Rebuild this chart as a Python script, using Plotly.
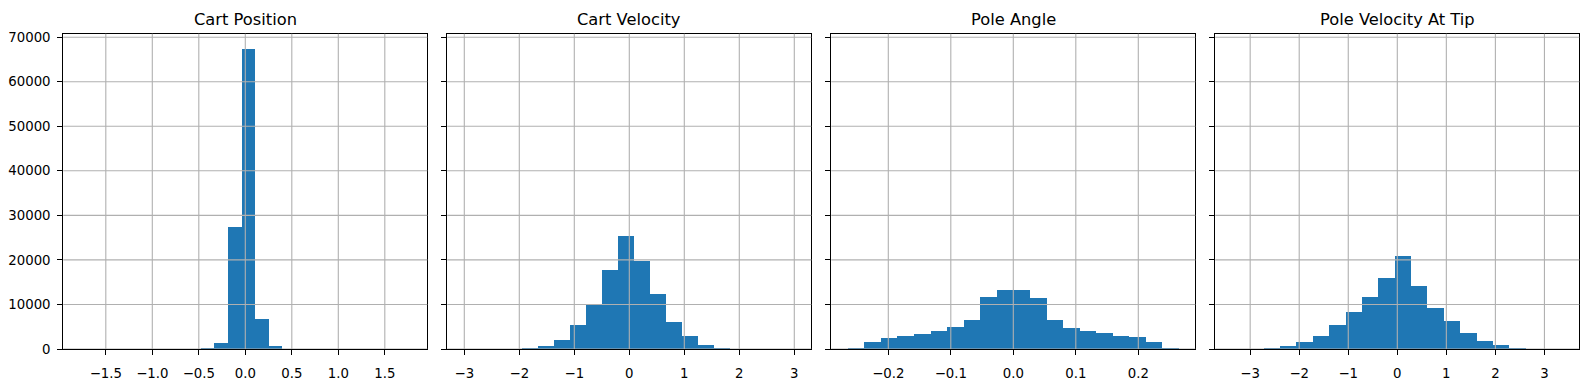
import plotly.graph_objects as go

# ---------------- data ----------------
titles = ["Cart Position", "Cart Velocity", "Pole Angle", "Pole Velocity At Tip"]

cart_pos_edges = [-0.476, -0.330, -0.184, -0.037, 0.108, 0.254, 0.400]
cart_pos_counts = [250, 1500, 27400, 67400, 6800, 700]

cart_vel_edges = [-1.951, -1.660, -1.369, -1.078, -0.787, -0.497, -0.206,
                  0.085, 0.376, 0.667, 0.958, 1.249, 1.540, 1.831]
cart_vel_counts = [200, 650, 2170, 5430, 9900, 17700, 25500, 19900, 12400,
                   6200, 3000, 870, 220]

pole_ang_edges = [-0.2645, -0.2380, -0.2115, -0.1850, -0.1584, -0.1319,
                  -0.1054, -0.0789, -0.0524, -0.0259, 0.0006, 0.0271, 0.0536,
                  0.0801, 0.1066, 0.1331, 0.1596, 0.1861, 0.2126, 0.2391, 0.2656]
pole_ang_counts = [220, 1740, 2610, 3040, 3480, 4130, 5000, 6520, 11740, 13260,
                   13260, 11520, 6520, 4780, 4130, 3700, 3040, 2830, 1740, 220]

pole_vel_edges = [-2.718, -2.384, -2.050, -1.717, -1.383, -1.049, -0.715,
                  -0.381, -0.048, 0.286, 0.620, 0.954, 1.288, 1.621, 1.955,
                  2.289, 2.623]
pole_vel_counts = [220, 650, 1590, 3040, 5430, 8260, 11740, 16090, 20870,
                   14130, 9350, 6300, 3700, 1960, 870, 220]

x_ranges = [[-1.957, 1.957], [-3.309, 3.309], [-0.2912, 0.2912], [-3.711, 3.711]]
y_range = [0, 70770]

x_tickvals = [
    [-1.5, -1.0, -0.5, 0.0, 0.5, 1.0, 1.5],
    [-3, -2, -1, 0, 1, 2, 3],
    [-0.2, -0.1, 0.0, 0.1, 0.2],
    [-3, -2, -1, 0, 1, 2, 3],
]
x_ticktext = [
    ["\u22121.5", "\u22121.0", "\u22120.5", "0.0", "0.5", "1.0", "1.5"],
    ["\u22123", "\u22122", "\u22121", "0", "1", "2", "3"],
    ["\u22120.2", "\u22120.1", "0.0", "0.1", "0.2"],
    ["\u22123", "\u22122", "\u22121", "0", "1", "2", "3"],
]
y_tickvals = [0, 10000, 20000, 30000, 40000, 50000, 60000, 70000]
y_ticktext = ["0", "10000", "20000", "30000", "40000", "50000", "60000", "70000"]

series = [
    (cart_pos_edges, cart_pos_counts),
    (cart_vel_edges, cart_vel_counts),
    (pole_ang_edges, pole_ang_counts),
    (pole_vel_edges, pole_vel_counts),
]

# ---------------- layout geometry ----------------
W, H = 1588, 389
panel_px = [(63.3, 427.3), (447.3, 811.3), (831.3, 1195.3), (1215.3, 1579.3)]
y_top_px, y_bot_px = 30.7, 356.0
y_dom = [(H - y_bot_px) / H, (H - y_top_px) / H]

BLUE = "#1f77b4"
GRID = "#b0b0b0"
FONT = "DejaVu Sans"
TICK_SIZE = 13.3
TITLE_SIZE = 16.3

fig = go.Figure()
layout = dict(
    width=W, height=H,
    margin=dict(l=0, r=0, t=0, b=0),
    paper_bgcolor="white", plot_bgcolor="white",
    showlegend=False, bargap=0,
    font=dict(family=FONT, size=TICK_SIZE, color="black"),
)
shapes = []
annotations = []

for i, ((edges, counts), title) in enumerate(zip(series, titles)):
    n = "" if i == 0 else str(i + 1)
    xa, ya = "x" + n, "y" + n
    centers = [(edges[k] + edges[k + 1]) / 2 for k in range(len(counts))]
    widths = [edges[k + 1] - edges[k] for k in range(len(counts))]
    fig.add_trace(go.Bar(
        x=centers, y=counts, width=widths,
        marker=dict(color=BLUE, line=dict(width=0)),
        xaxis=xa, yaxis=ya, hoverinfo="x+y",
    ))
    x0, x1 = panel_px[i]
    layout["xaxis" + n] = dict(
        domain=[x0 / W, x1 / W], anchor=ya, range=x_ranges[i],
        tickmode="array", tickvals=x_tickvals[i], ticktext=x_ticktext[i],
        showgrid=False, zeroline=False,
        showline=True, linecolor="black", linewidth=1.1, mirror=True,
        ticks="outside", ticklen=5, tickwidth=1.1, tickcolor="black",
        ticklabelstandoff=7,
        tickfont=dict(family=FONT, size=TICK_SIZE, color="black"),
    )
    yax = dict(
        domain=y_dom, anchor=xa, range=y_range,
        tickmode="array", tickvals=y_tickvals, ticktext=y_ticktext,
        showgrid=False, zeroline=False,
        showline=True, linecolor="black", linewidth=1.1, mirror=True,
        ticks="outside", ticklen=5, tickwidth=1.1, tickcolor="black",
        ticklabelstandoff=4,
        tickfont=dict(family=FONT, size=TICK_SIZE, color="black"),
        showticklabels=(i == 0),
    )
    if i > 0:
        yax["matches"] = "y"
    layout["yaxis" + n] = yax

    # grid lines drawn above the bars (as in the reference)
    for tv in x_tickvals[i]:
        shapes.append(dict(type="line", xref=xa, yref=ya + " domain",
                           x0=tv, x1=tv, y0=0, y1=1, layer="above",
                           line=dict(color=GRID, width=1.1)))
    for tv in y_tickvals:
        shapes.append(dict(type="line", xref=xa + " domain", yref=ya,
                           x0=0, x1=1, y0=tv, y1=tv, layer="above",
                           line=dict(color=GRID, width=1.1)))

    annotations.append(dict(
        text=title, xref="paper", yref="paper",
        x=(x0 + x1) / 2 / W, y=(H - 16.3) / H,
        xanchor="center", yanchor="middle", showarrow=False,
        font=dict(family=FONT, size=TITLE_SIZE, color="black"),
    ))

layout["shapes"] = shapes
layout["annotations"] = annotations
fig.update_layout(**layout)

fig.write_html(
    "out.html",
    config={"displayModeBar": False},
    post_script="document.body.style.margin='0';document.body.style.overflow='hidden';",
)
